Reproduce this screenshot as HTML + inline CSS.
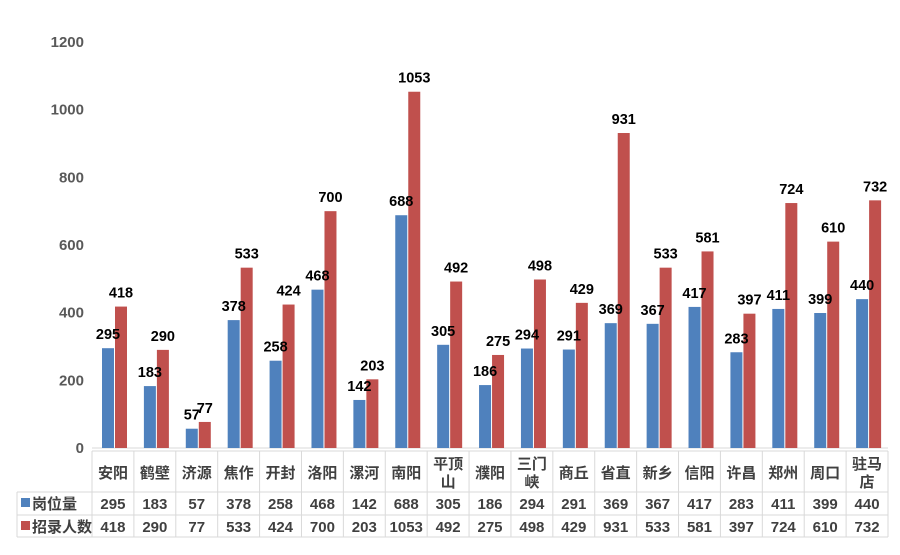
<!DOCTYPE html>
<html><head><meta charset="utf-8"><style>
body{margin:0;background:#fff;}
text{font-family:"Liberation Sans","Noto Sans CJK SC",sans-serif;font-weight:bold;}
</style></head><body>
<svg width="900" height="550" xmlns="http://www.w3.org/2000/svg" id="s"></svg>
<script>
const cats=["安阳","鹤壁","济源","焦作","开封","洛阳","漯河","南阳","平顶|山","濮阳","三门|峡","商丘","省直","新乡","信阳","许昌","郑州","周口","驻马|店"];
const a=[295,183,57,378,258,468,142,688,305,186,294,291,369,367,417,283,411,399,440];
const b=[418,290,77,533,424,700,203,1053,492,275,498,429,931,533,581,397,724,610,732];
const x0=92,w=(888-92)/19,y0=448,k=406/1200;
let s='';
for(let v=0;v<=1200;v+=200){s+=`<text x="84" y="${y0-v*k+5}" text-anchor="end" font-size="15" fill="#595959">${v}</text>`;}
s+=`<line x1="92" y1="${y0}" x2="888" y2="${y0}" stroke="#d9d9d9"/>`;
for(let i=0;i<19;i++){
 const cx=x0+w*i;
 const ha=a[i]*k,hb=b[i]*k;
 s+=`<rect x="${cx+10}" y="${y0-ha}" width="12" height="${ha}" fill="#4f81bd"/>`;
 s+=`<rect x="${cx+23}" y="${y0-hb}" width="12" height="${hb}" fill="#c0504d"/>`;
 s+=`<text x="${cx+16}" y="${y0-ha-9}" text-anchor="middle" font-size="14.5" fill="#000">${a[i]}</text>`;
 s+=`<text x="${cx+29}" y="${y0-hb-9}" text-anchor="middle" font-size="14.5" fill="#000">${b[i]}</text>`;
 const c=cats[i].split('|'), mx=cx+w/2;
 if(c.length==1) s+=`<text x="${mx}" y="478" text-anchor="middle" font-size="15" fill="#404040">${c[0]}</text>`;
 else {s+=`<text x="${mx}" y="469" text-anchor="middle" font-size="15" fill="#404040">${c[0]}</text><text x="${mx}" y="487" text-anchor="middle" font-size="15" fill="#404040">${c[1]}</text>`;}
 s+=`<text x="${mx}" y="509" text-anchor="middle" font-size="15" fill="#404040">${a[i]}</text>`;
 s+=`<text x="${mx}" y="532" text-anchor="middle" font-size="15" fill="#404040">${b[i]}</text>`;
}
const L='#d9d9d9';
for(let i=0;i<=19;i++){const x=x0+w*i;s+=`<line x1="${x}" y1="451" x2="${x}" y2="537" stroke="${L}"/>`;}
s+=`<line x1="92" y1="451" x2="888" y2="451" stroke="${L}"/>`;
[492,515,537].forEach(y=>s+=`<line x1="17" y1="${y}" x2="888" y2="${y}" stroke="${L}"/>`);
s+=`<line x1="17" y1="492" x2="17" y2="537" stroke="${L}"/>`;
s+=`<rect x="21" y="498" width="9" height="9" fill="#4f81bd"/><text x="32" y="509" font-size="15" fill="#404040">岗位量</text>`;
s+=`<rect x="21" y="521" width="9" height="9" fill="#c0504d"/><text x="32" y="532" font-size="15" fill="#404040">招录人数</text>`;
document.getElementById('s').innerHTML=s;
</script>
</body></html>
